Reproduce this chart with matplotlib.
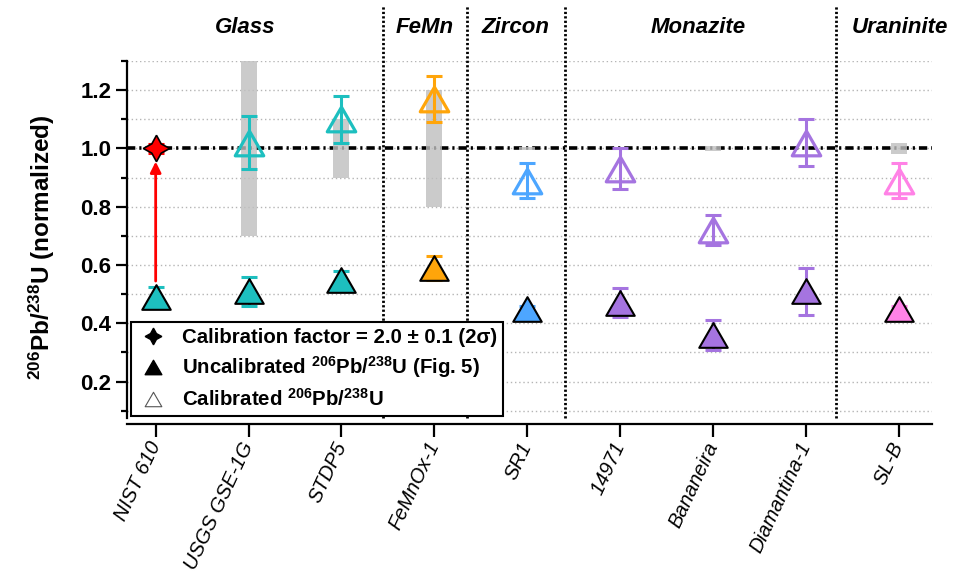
import matplotlib
matplotlib.use("Agg")
import matplotlib.pyplot as plt
from matplotlib.path import Path
from matplotlib.lines import Line2D
import numpy as np

plt.rcParams['font.family'] = ['Liberation Sans', 'DejaVu Sans']
plt.rcParams['mathtext.fontset'] = 'custom'
plt.rcParams['mathtext.rm'] = 'Liberation Sans:bold'
plt.rcParams['mathtext.bf'] = 'Liberation Sans:bold'
plt.rcParams['mathtext.default'] = 'rm'

# ---------------- data ----------------
samples = ['NIST 610', 'USGS GSE-1G', 'STDP5', 'FeMnOx-1', 'SR1',
           '14971', 'Bananeira', 'Diamantina-1', 'SL-B']
uncal_val = [0.49, 0.51, 0.55, 0.59, 0.45, 0.47, 0.36, 0.51, 0.45]
uncal_err = [0.035, 0.05, 0.03, 0.04, 0.01, 0.05, 0.05, 0.08, 0.01]
cal_val = [None, 1.02, 1.10, 1.17, 0.89, 0.93, 0.72, 1.02, 0.89]
cal_err = [None, 0.09, 0.08, 0.08, 0.06, 0.07, 0.05, 0.08, 0.06]
ref_low = [None, 0.70, 0.90, 0.80, 0.995, None, 0.99, None, 0.98]
ref_high = [None, 1.30, 1.10, 1.20, 1.005, None, 1.01, None, 1.02]
calib_val = 1.0
calib_err = 0.015
colors = ['#1DBFBF', '#1DBFBF', '#1DBFBF', '#FFA50A', '#4DA6FF',
          '#A574E0', '#A574E0', '#A574E0', '#FF82E6']
groups = ['Glass', 'FeMn', 'Zircon', 'Monazite', 'Uraninite']
group_pos = [0.96, 2.9, 3.88, 5.84, 8.01]
separators = [2.45, 3.35, 4.41, 7.33]

# ---------------- figure ----------------
fig = plt.figure(figsize=(9.54, 5.73), dpi=100)
ax = fig.add_axes([0.133, 0.2705, 0.844, 0.623])

x = np.arange(len(samples))
ax.set_xlim(-0.31, 8.36)
ax.set_ylim(0.075, 1.3)

# equilateral triangle marker
tri = Path([(-1, -0.866), (1, -0.866), (0, 0.866), (-1, -0.866)],
           [Path.MOVETO, Path.LINETO, Path.LINETO, Path.CLOSEPOLY])

# grid
ax.set_yticks([0.2, 0.4, 0.6, 0.8, 1.0, 1.2])
ax.set_yticks(np.arange(0.1, 1.31, 0.1), minor=True)
for yv in np.arange(0.1, 1.31, 0.1):
    ax.axhline(yv, color='#b5b5b5', lw=1.0, ls=(0, (1, 2)), zorder=0.5)

# reference line
ax.axhline(calib_val, color='black', lw=2.6, ls=(0, (2.3, 1.1, 0.6, 1.1)), zorder=1.5)

# gray reference ranges
for i in range(len(samples)):
    if ref_low[i] is not None:
        ax.bar(x[i], ref_high[i] - ref_low[i], bottom=ref_low[i], width=0.172,
               color='#bfbfbf', alpha=0.8, zorder=2, linewidth=0)

# separators
for s in separators:
    ax.plot([s, s], [0, 1.157], transform=ax.get_xaxis_transform(), color='black',
            lw=2.0, ls=(0, (0.8, 0.8)), clip_on=False, zorder=1)

# group labels
for g, p in zip(groups, group_pos):
    ax.text(p, 1.095, g, transform=ax.get_xaxis_transform(), ha='center', va='center',
            fontsize=16, fontweight='bold', fontstyle='italic')

# error bars and markers
for i in range(len(samples)):
    c = colors[i]
    ax.errorbar(x[i], uncal_val[i], yerr=uncal_err[i], fmt='none', ecolor=c,
                elinewidth=2.2, capsize=6, capthick=2.2, zorder=3)
    ax.plot(x[i], uncal_val[i], marker=tri, ms=20.5, mfc=c, mec='black', mew=1.5,
            ls='none', zorder=4)
    if cal_val[i] is not None:
        ax.errorbar(x[i], cal_val[i], yerr=cal_err[i], fmt='none', ecolor=c,
                    elinewidth=2.2, capsize=6, capthick=2.2, zorder=3)
        ax.plot(x[i], cal_val[i], marker=tri, ms=20.5, mfc='none', mec=c, mew=2.3,
                ls='none', zorder=4)

# calibration point (NIST 610)
ax.annotate('', xy=(x[0], 0.955), xytext=(x[0], uncal_val[0] + 0.055),
            arrowprops=dict(arrowstyle='-|>', color='red', lw=2, mutation_scale=16,
                            shrinkA=0, shrinkB=0), zorder=3)
ax.errorbar(x[0], calib_val, yerr=calib_err, fmt='none', ecolor='red',
            elinewidth=2.2, capsize=6, capthick=2.2, zorder=3)
ax.plot(x[0], calib_val, marker=(4, 1, 0), ms=19, mfc='red', mec='black', mew=1.2,
        ls='none', zorder=5)

# axes styling
for sp in ['top', 'right']:
    ax.spines[sp].set_visible(False)
ax.spines['left'].set_linewidth(1.6)
ax.spines['bottom'].set_linewidth(1.6)
ax.spines['bottom'].set_position(('outward', 4.3))
ax.tick_params(axis='y', which='major', length=8, width=1.6, labelsize=16, pad=3)
ax.tick_params(axis='y', which='minor', length=4, width=1.6)
ax.tick_params(axis='x', which='major', length=9, width=1.6, pad=2)
ax.set_yticklabels(['0.2', '0.4', '0.6', '0.8', '1.0', '1.2'], fontweight='bold')
ax.set_xticks(x)
ax.set_xticklabels(samples, rotation=65, ha='right', va='center',
                   rotation_mode='anchor', fontsize=14.5, fontstyle='italic')
for lab in ax.get_xticklabels():
    lab.set_y(-0.01)

ax.set_ylabel(r'$^{206}$Pb/$^{238}$U (normalized)', fontsize=17.5, fontweight='bold')
ax.yaxis.set_label_coords(-0.087, 0.479)

# legend
handles = [
    Line2D([], [], marker=(4, 1, 0), ms=12, mfc='black', mec='black', ls='none'),
    Line2D([], [], marker=tri, ms=12, mfc='black', mec='black', ls='none'),
    Line2D([], [], marker=tri, ms=12, mfc='white', mec='#555555', mew=0.8, ls='none'),
]
labels = [
    'Calibration factor = 2.0 ± 0.1 (2σ)',
    r'Uncalibrated $^{206}$Pb/$^{238}$U (Fig. 5)',
    r'Calibrated $^{206}$Pb/$^{238}$U',
]
leg = ax.legend(handles, labels, loc='lower left', bbox_to_anchor=(0.005, 0.005),
                borderaxespad=0, fancybox=False, framealpha=1, edgecolor='black',
                prop={'weight': 'bold', 'size': 14.7}, labelspacing=0.38,
                handletextpad=0.6, handlelength=1.6, borderpad=0.3)
leg.get_frame().set_linewidth(1.5)
leg.set_zorder(10)

fig.savefig('out.png', dpi=100)
